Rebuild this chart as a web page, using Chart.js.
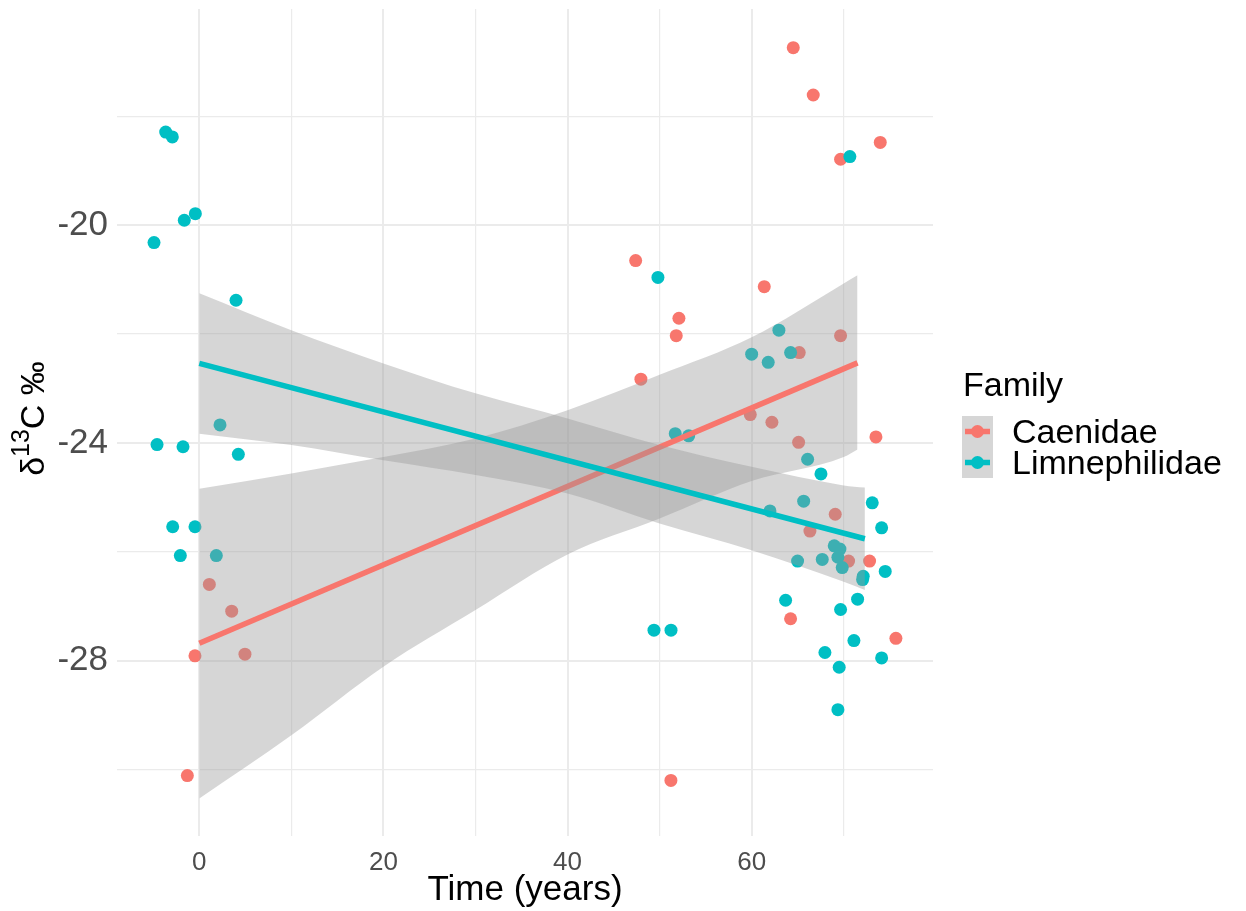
<!DOCTYPE html>
<html>
<head>
<meta charset="utf-8">
<script src="https://cdn.jsdelivr.net/npm/chart.js@4.4.1/dist/chart.umd.min.js"></script>
<style>
  html, body { margin: 0; padding: 0; background: #fff; }
  canvas { display: block; }
</style>
</head>
<body>
<canvas id="isoChart" width="1246" height="911"></canvas>
<script>
// ===== DATA =====
const caenidaeTime = [1.09, 3.52, -0.47, 4.96, -1.30, 64.52, 66.69, 73.97, 69.66, 47.40, 61.37, 52.10, 51.81, 69.66,
  65.17, 47.97, 59.85, 62.20, 65.10, 73.50, 69.08, 66.33, 70.53, 72.81, 64.23, 75.67, 51.23];
const caenidaeD13C = [-26.60, -27.09, -27.91, -27.88, -30.11, -16.74, -17.61, -18.48, -18.79, -20.65, -21.13, -21.71, -22.03, -22.03,
  -22.34, -22.83, -23.48, -23.62, -23.99, -23.89, -25.31, -25.62, -26.17, -26.17, -27.23, -27.59, -30.20];

const limnTime = [-3.65, -2.93, -1.63, -0.43, -4.92, 3.99, 2.25, -4.59, -1.77, 4.24, -2.89, -0.47, -2.06, 1.85,
  70.67, 49.82, 62.96, 60.00, 61.80, 64.23, 51.70, 53.16, 66.08, 67.53, 65.65, 73.10, 61.99, 74.12, 68.97, 69.59,
  64.99, 67.67, 69.37, 69.84, 72.12, 72.05, 74.51, 63.69, 71.51, 69.66, 49.39, 51.24, 71.11, 67.96, 74.12, 69.51, 69.37];
const limnD13C = [-18.29, -18.38, -19.91, -19.79, -20.32, -21.38, -23.67, -24.03, -24.07, -24.21, -25.54, -25.54, -26.07, -26.07,
  -18.74, -20.96, -21.93, -22.37, -22.52, -22.34, -23.83, -23.87, -24.30, -24.57, -25.07, -25.10, -25.25, -25.56, -25.89, -25.95,
  -26.17, -26.14, -26.10, -26.29, -26.45, -26.51, -26.36, -26.89, -26.87, -27.06, -27.44, -27.44, -27.63, -27.85, -27.95, -28.12, -28.90];

// linear fits (end points)
const caenidaeFitTime = [0, 71.5];
const caenidaeFit = [-27.68, -22.53];
const limnFitTime = [0, 72.3];
const limnFit = [-22.54, -25.76];

// confidence bands
const caenidaeBandTime = [0, 10, 20, 30, 40, 50, 60, 70, 71.5];
const caenidaeUpper = [-24.84, -24.56, -24.26, -23.92, -23.40, -22.75, -22.06, -21.07, -20.92];
const caenidaeLower = [-30.53, -29.37, -28.11, -27.07, -26.05, -25.39, -24.70, -24.26, -24.12];
const limnBandTime = [0, 10, 20, 30, 40, 50, 60, 70, 72.3];
const limnUpper = [-21.25, -21.93, -22.54, -23.09, -23.55, -24.04, -24.44, -24.78, -24.82];
const limnLower = [-23.83, -24.04, -24.32, -24.59, -24.93, -25.48, -25.97, -26.55, -26.70];

const families = ["Caenidae", "Limnephilidae"];
const xTicks = [0, 10, 20, 30, 40, 50, 60, 70];
const xLabels = [0, 20, 40, 60];
const yTicks = [-30, -28, -26, -24, -22, -20, -18];
const yLabels = [-28, -24, -20];

const RED = "#F8766D";
const CYAN = "#00BFC4";
const BAND = "rgba(153,153,153,0.4)";
const FONT = "'Liberation Sans', Arial, sans-serif";

const pts = (xs, ys) => xs.map((x, i) => ({ x: x, y: ys[i] }));

// ===== EXTRA DRAWING: y title + legend =====
const decorations = {
  id: "decorations",
  afterDraw(chart) {
    const ctx = chart.ctx;
    const area = chart.chartArea;

    // y axis title: δ13C ‰ (13 as superscript)
    ctx.save();
    ctx.fillStyle = "#000";
    ctx.textBaseline = "alphabetic";
    ctx.textAlign = "left";
    const big = "34px " + FONT, small = "25px " + FONT;
    ctx.font = big;
    const wD = ctx.measureText("\u03B4").width;
    const wC = ctx.measureText("C \u2030").width;
    ctx.font = small;
    const w13 = ctx.measureText("13").width;
    const total = wD + w13 + wC;
    const cy = (area.top + area.bottom) / 2 - 4;
    ctx.translate(44, cy + total / 2);
    ctx.rotate(-Math.PI / 2);
    ctx.font = big;
    ctx.fillText("\u03B4", 0, 0);
    ctx.font = small;
    ctx.fillText("13", wD, -15);
    ctx.font = big;
    ctx.fillText("C \u2030", wD + w13, 0);
    ctx.restore();

    // legend
    ctx.save();
    ctx.fillStyle = "#000";
    ctx.font = "34px " + FONT;
    ctx.textBaseline = "alphabetic";
    ctx.fillText("Family", 963, 396);
    ctx.fillStyle = BAND;
    ctx.fillRect(962, 416, 31, 62);
    [RED, CYAN].forEach((col, i) => {
      const y = 431.5 + i * 31;
      ctx.strokeStyle = col;
      ctx.lineWidth = 5.5;
      ctx.beginPath();
      ctx.moveTo(965, y);
      ctx.lineTo(990, y);
      ctx.stroke();
      ctx.fillStyle = col;
      ctx.beginPath();
      ctx.arc(977.5, y, 6.5, 0, Math.PI * 2);
      ctx.fill();
      ctx.fillStyle = "#000";
      ctx.font = "34px " + FONT;
      ctx.textBaseline = "middle";
      ctx.fillText(families[i], 1012, y + 2);
    });
    ctx.restore();
  }
};

// fix the axis box sizes so the panel sits where it does in the figure
const fixBox = (w, h) => s => {
  if (w) s.width = w;
  if (h) s.height = h;
  s.paddingTop = 0; s.paddingBottom = 0; s.paddingLeft = 0; s.paddingRight = 0;
};

// ===== CHART =====
const isoChart = new Chart(document.getElementById("isoChart"), {
  type: "scatter",
  data: {
    datasets: [
      {
        type: "line", label: "fit L", data: pts(limnFitTime, limnFit),
        borderColor: CYAN, borderWidth: 5.5, pointRadius: 0, fill: false, order: 1
      },
      {
        type: "line", label: "band L up", data: pts(limnBandTime, limnUpper),
        borderWidth: 0, pointRadius: 0, backgroundColor: BAND, fill: "+1",
        cubicInterpolationMode: "monotone", order: 2
      },
      {
        type: "line", label: "band L low", data: pts(limnBandTime, limnLower),
        borderWidth: 0, pointRadius: 0, fill: false, cubicInterpolationMode: "monotone", order: 2
      },
      {
        type: "line", label: "fit C", data: pts(caenidaeFitTime, caenidaeFit),
        borderColor: RED, borderWidth: 5.5, pointRadius: 0, fill: false, order: 3
      },
      {
        type: "line", label: "band C up", data: pts(caenidaeBandTime, caenidaeUpper),
        borderWidth: 0, pointRadius: 0, backgroundColor: BAND, fill: "+1",
        cubicInterpolationMode: "monotone", order: 4
      },
      {
        type: "line", label: "band C low", data: pts(caenidaeBandTime, caenidaeLower),
        borderWidth: 0, pointRadius: 0, fill: false, cubicInterpolationMode: "monotone", order: 4
      },
      {
        label: families[1], data: pts(limnTime, limnD13C),
        backgroundColor: CYAN, borderWidth: 0, pointRadius: 6.5, order: 5
      },
      {
        label: families[0], data: pts(caenidaeTime, caenidaeD13C),
        backgroundColor: RED, borderWidth: 0, pointRadius: 6.5, order: 6
      }
    ]
  },
  options: {
    responsive: false,
    animation: false,
    layout: { padding: { left: 0, right: 313, top: 9, bottom: 0 } },
    plugins: { legend: { display: false }, tooltip: { enabled: false } },
    scales: {
      x: {
        type: "linear", min: -8.94, max: 79.7,
        afterBuildTicks: s => { s.ticks = xTicks.map(v => ({ value: v })); },
        afterFit: fixBox(0, 75),
        border: { display: false },
        grid: {
          color: "#EBEBEB", drawTicks: false,
          lineWidth: c => (c.tick && xLabels.includes(c.tick.value)) ? 2 : 1.2
        },
        ticks: {
          autoSkip: false, maxRotation: 0, padding: 11, color: "#4D4D4D",
          font: { family: FONT, size: 26 },
          callback: v => xLabels.includes(v) ? String(v) : ""
        },
        title: {
          display: true, text: "Time (years)", color: "#000",
          font: { family: FONT, size: 35, lineHeight: 1.2 }, padding: { top: 0, bottom: 0 }
        }
      },
      y: {
        min: -31.22, max: -16.03,
        afterBuildTicks: s => { s.ticks = yTicks.map(v => ({ value: v })); },
        afterFit: fixBox(117, 0),
        border: { display: false },
        grid: {
          color: "#EBEBEB", drawTicks: false,
          lineWidth: c => (c.tick && yLabels.includes(c.tick.value)) ? 2 : 1.2
        },
        ticks: {
          autoSkip: false, padding: 9, color: "#4D4D4D",
          font: { family: FONT, size: 35 },
          callback: v => yLabels.includes(v) ? String(v) : ""
        }
      }
    }
  },
  plugins: [decorations]
});
</script>
</body>
</html>
